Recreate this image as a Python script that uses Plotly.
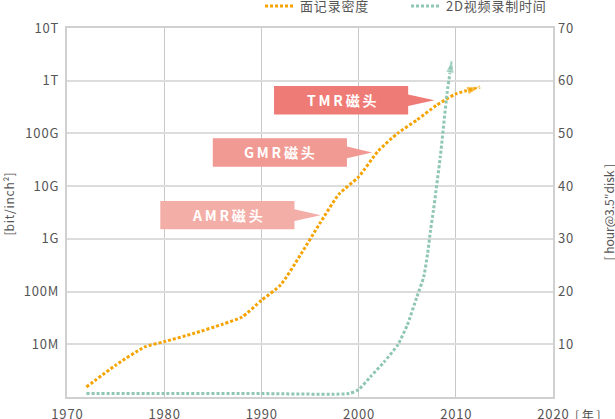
import plotly.graph_objects as go

# 面记录密度 [bit/inch^2]
density_years = [1972, 1975, 1978, 1980, 1983, 1986, 1988, 1990, 1992, 1994,
                 1996, 1998, 2000, 2002, 2004, 2006, 2008, 2010, 2012.5]
density_values = [1.55e6, 4.0e6, 8.9e6, 1.12e7, 1.6e7, 2.4e7, 3.3e7, 6.8e7,
                  1.35e8, 4.9e8, 1.95e9, 7.1e9, 1.5e10, 4.6e10, 1.0e11,
                  1.8e11, 3.4e11, 5.6e11, 7.6e11]

# 2D视频录制时间 [hour@3.5"disk]
video_years = [1972, 1980, 1990, 1999, 2000, 2001.2, 2002.6, 2004, 2005,
               2006, 2006.7, 2007.1, 2007.4, 2007.7, 2008.4, 2009.1, 2009.6]
video_hours = [0.65, 0.65, 0.65, 0.65, 1.4, 3.8, 6.6, 9.8, 13.6,
               19.0, 22.8, 27.2, 31.6, 35.4, 45.5, 57.6, 64.0]

density_ticks = [1e7, 1e8, 1e9, 1e10, 1e11, 1e12, 1e13]
density_labels = ["10M", "100M", "1G", "10G", "100G", "1T", "10T"]
hour_ticks = [10, 20, 30, 40, 50, 60, 70]
year_ticks = [1970, 1980, 1990, 2000, 2010, 2020]

head_names = ["AMR磁头", "GMR磁头", "TMR磁头"]

ORANGE = "#f5a300"
GREEN = "#8fc7b3"
GREY = "#555555"
FONT = "Noto Sans CJK SC"
HOUR_MAX = 70
HAIR = "\u200a"
THIN = "\u2009"


def spaced(s, sep=HAIR):
    # the original uses loose letter spacing
    return sep.join(str(s))


fig = go.Figure()

fig.add_trace(
    go.Scatter(
        x=density_years,
        y=density_values,
        name=spaced("面记录密度"),
        mode="lines",
        line=dict(color=ORANGE, width=3, dash="3px,2px", shape="spline",
                  smoothing=0.6),
    )
)
fig.add_trace(
    go.Scatter(
        x=video_years,
        y=video_hours,
        name=spaced("2D视频录制时间"),
        mode="lines",
        yaxis="y2",
        line=dict(color=GREEN, width=3, dash="3px,2px", shape="spline",
                  smoothing=0.5),
    )
)

# arrow heads at the end of each line
fig.add_trace(
    go.Scatter(
        x=density_years[-2:],
        y=density_values[-2:],
        mode="markers",
        showlegend=False,
        hoverinfo="skip",
        marker=dict(symbol="arrow", angleref="previous", size=[0, 14],
                    color=ORANGE),
    )
)
fig.add_trace(
    go.Scatter(
        x=video_years[-2:],
        y=video_hours[-2:],
        mode="markers",
        yaxis="y2",
        showlegend=False,
        hoverinfo="skip",
        marker=dict(symbol="arrow", angleref="previous", size=[0, 14],
                    color=GREEN),
    )
)

# callout boxes (x in years, y on the right-axis hour scale)
boxes = [
    # x0, x1, y mid, tip x, colour
    (1979.6, 1993.4, 34.5, 1996.1, "#f4aea8"),
    (1985.0, 1998.8, 46.4, 2001.4, "#f19a93"),
    (1991.3, 2005.1, 56.3, 2007.8, "#ef7b76"),
]
half_h = 2.7
half_tip = 1.1


def d(v):
    return v / HOUR_MAX


for name, (x0, x1, ym, tip, col) in zip(head_names, boxes):
    path = (
        f"M{x0},{d(ym - half_h)} L{x1},{d(ym - half_h)} "
        f"L{x1},{d(ym - half_tip)} L{tip},{d(ym)} L{x1},{d(ym + half_tip)} "
        f"L{x1},{d(ym + half_h)} L{x0},{d(ym + half_h)} Z"
    )
    fig.add_shape(type="path", path=path, xref="x", yref="y domain",
                  fillcolor=col, line=dict(width=0), layer="above")
    fig.add_annotation(
        x=(x0 + x1) / 2, y=d(ym), xref="x", yref="y domain",
        xanchor="center", yanchor="middle",
        text="<b>" + spaced(name, THIN) + "</b>",
        showarrow=False,
        font=dict(family=FONT, size=14, color="white"),
    )

# axis titles
fig.add_annotation(
    x=0, y=0.5, xref="paper", yref="paper", xshift=-59, yshift=8,
    xanchor="center", yanchor="middle",
    text="[" + spaced("bit/inch²") + "]", textangle=-90, showarrow=False,
    font=dict(family=FONT, size=12, color=GREY),
)
fig.add_annotation(
    x=1, y=0.5, xref="paper", yref="paper", xshift=55,
    xanchor="center", yanchor="middle",
    text="[ hour@3.5\u2033disk ]", textangle=-90, showarrow=False,
    font=dict(family=FONT, size=12, color=GREY),
)
fig.add_annotation(
    x=1, y=0, xref="paper", yref="paper", xshift=35, yshift=-17,
    xanchor="center", yanchor="middle",
    text="[ 年 ]", showarrow=False,
    font=dict(family=FONT, size=12, color=GREY),
)

fig.update_layout(
    width=615,
    height=419,
    margin=dict(l=67, r=62, t=28, b=22, autoexpand=False),
    paper_bgcolor="white",
    plot_bgcolor="white",
    font=dict(family=FONT, size=13, color=GREY),
    showlegend=True,
    legend=dict(
        orientation="h",
        x=0.998, xanchor="right",
        y=1.10, yanchor="top",
        entrywidth=101, entrywidthmode="pixels",
        font=dict(family=FONT, size=13, color=GREY),
        bgcolor="rgba(0,0,0,0)",
    ),
    xaxis=dict(
        range=[1970, 2020],
        tickvals=year_ticks,
        ticktext=[spaced(v) for v in year_ticks],
        showgrid=True, gridcolor="#c8c8c8", gridwidth=1,
        showline=True, linecolor="#d0d0d0", linewidth=2, mirror=True,
        zeroline=False, ticks="", ticklabelstandoff=4,
    ),
    yaxis=dict(
        type="log",
        range=[6, 13],
        tickvals=density_ticks,
        ticktext=[spaced(v) for v in density_labels],
        showgrid=True, gridcolor="#dcdcdc", gridwidth=2,
        showline=True, linecolor="#d0d0d0", linewidth=2, mirror=True,
        zeroline=False, ticks="", ticklabelstandoff=4,
    ),
    yaxis2=dict(
        overlaying="y",
        side="right",
        range=[0, HOUR_MAX],
        tickvals=hour_ticks,
        ticktext=[spaced(v) for v in hour_ticks],
        showgrid=False,
        zeroline=False, ticks="", ticklabelstandoff=4,
    ),
)

fig.write_html(
    "out.html",
    config={"displayModeBar": False},
    post_script="document.body.style.margin = '0';",
)
